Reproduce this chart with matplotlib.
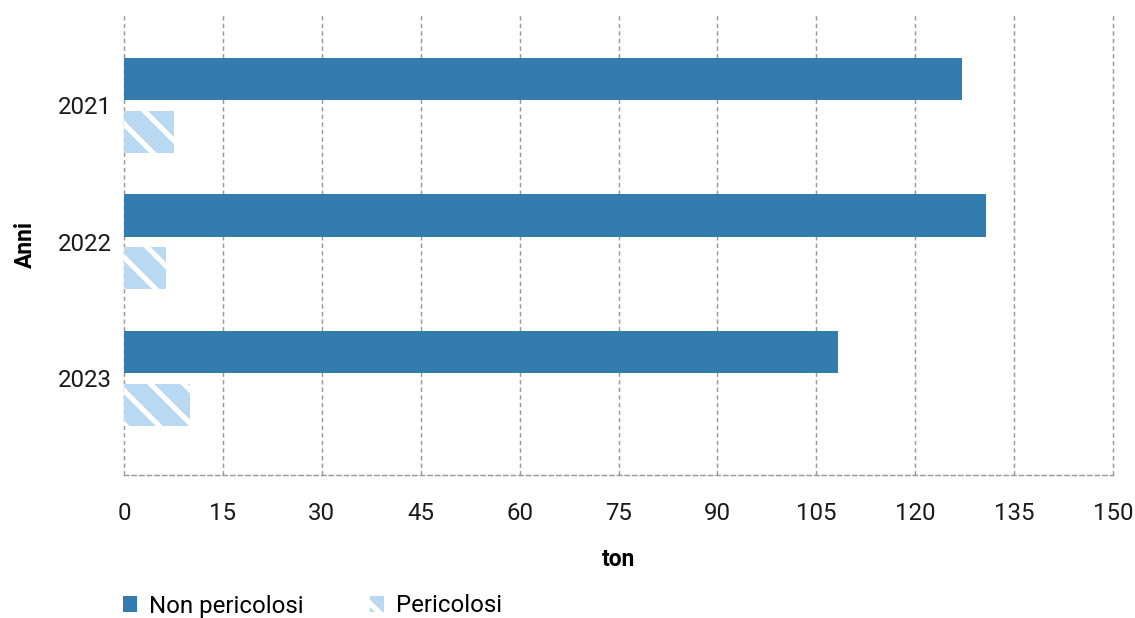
import matplotlib
matplotlib.use("Agg")
import matplotlib.pyplot as plt
import numpy as np

# Data
anni = ["2021", "2022", "2023"]
non_pericolosi = [127.1, 130.7, 108.3]
pericolosi = [7.6, 6.4, 10.0]
x_ticks = [0, 15, 30, 45, 60, 75, 90, 105, 120, 135, 150]

DPI = 100
plt.rcParams["font.family"] = ["Roboto", "DejaVu Sans"]
plt.rcParams["hatch.linewidth"] = 3.7

fig = plt.figure(figsize=(1135 / DPI, 618 / DPI), dpi=DPI)
ax = fig.add_axes([124 / 1135, 1 - 475 / 618, (1113 - 124) / 1135, (475 - 15) / 618])

y = np.arange(len(anni))
h = 0.308
off = 0.194
blue = "#347bae"
light = "#b9d9f2"

ax.barh(y - off, non_pericolosi, height=h, color=blue, label="Non pericolosi", zorder=3)
ax.barh(y + off, pericolosi, height=h, facecolor=light, edgecolor="white", linewidth=0,
        hatch="\\", label="Pericolosi", zorder=3)

ax.set_xlim(0, 150)
ax.set_ylim(2.707, -0.663)
ax.set_xticks(x_ticks)
ax.set_xticklabels([str(v) for v in x_ticks])
ax.set_yticks(y)
ax.set_yticklabels(anni)
ax.tick_params(axis="both", length=0, labelsize=17.25, colors="#1a1a1a")
ax.tick_params(axis="x", pad=19.5)
ax.tick_params(axis="y", pad=9)

grid_ls = (0, (3, 2.2))
grid_col = "#9a9a9a"
ax.grid(axis="x", color=grid_col, linestyle=grid_ls, linewidth=1.05, zorder=0)
for gl in ax.get_xgridlines():
    gl.set_clip_on(False)
for s in ["top", "right", "left"]:
    ax.spines[s].set_visible(False)
ax.spines["bottom"].set_color(grid_col)
ax.spines["bottom"].set_linestyle(grid_ls)
ax.spines["bottom"].set_linewidth(1.05)

ax.set_xlabel("ton", fontsize=16.5, fontweight="bold", labelpad=16.5)
ax.set_ylabel("Anni", fontsize=16.5, fontweight="bold", labelpad=15)

handles, labels = ax.get_legend_handles_labels()
fig.legend(handles, labels, loc="center left", bbox_to_anchor=(118 / 1135, 1 - 606 / 618),
           ncol=2, frameon=False, fontsize=17.25, handlelength=0.6, handleheight=0.6,
           handletextpad=0.5, columnspacing=2.75, borderaxespad=0.0, borderpad=0.2)

fig.savefig("out.png", dpi=DPI, facecolor="white")
